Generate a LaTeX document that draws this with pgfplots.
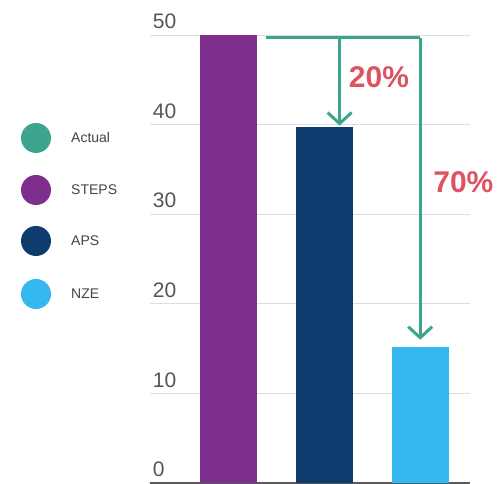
\documentclass[border=0pt]{standalone}
\usepackage{fontspec}
\setmainfont{Liberation Sans}
\usepackage{pgfplots}
\pgfplotsset{compat=1.18}
\usetikzlibrary{arrows.meta}

\definecolor{actual}{HTML}{3DA48E}
\definecolor{steps}{HTML}{7E2F8E}
\definecolor{aps}{HTML}{0F3C6E}
\definecolor{nze}{HTML}{35B7EF}
\definecolor{pct}{HTML}{DC5460}
\definecolor{ticktext}{HTML}{555555}
\definecolor{legtext}{HTML}{444444}

\begin{document}
\begin{tikzpicture}[x=1pt,y=1pt]

% legend
\foreach \c/\t/\yy in {actual/Actual/346, steps/STEPS/294, aps/APS/243, nze/NZE/190}{
  \fill[\c] (36,\yy) circle (15);
  \node[anchor=west, inner sep=0pt, text=legtext, font=\fontsize{14}{14}\selectfont] at (71,\yy) {\t};
}

\begin{axis}[
  at={(156,1)}, anchor=south west,
  scale only axis,
  width=320pt, height=448pt,
  xmin=-0.818, xmax=2.516,
  ymin=0, ymax=50,
  ytick={0,10,20,30,40,50},
  xtick=\empty,
  ybar, bar width=57pt, bar shift=0pt,
  ymajorgrids,
  grid style={draw=black!13, line width=1pt},
  axis x line*=bottom, axis y line*=left,
  y axis line style={draw=none},
  x axis line style={draw=black!65, line width=1.6pt},
  major tick length=0pt,
  /pgf/number format/assume math mode=true,
  yticklabel style={anchor=south west, inner sep=0pt, xshift=3pt, yshift=6pt,
    text=ticktext, font=\fontsize{21}{21}\selectfont},
  clip=false,
]
\addplot[fill=steps, draw=none] coordinates {(0,50)};
\addplot[fill=aps, draw=none] coordinates {(1,39.7)};
\addplot[fill=nze, draw=none] coordinates {(2,15.2)};

\draw[actual, line width=3pt] (axis cs:0.39,49.7) -- (axis cs:2.0,49.7);
\draw[actual, line width=3pt, -{Straight Barb[length=11pt,width=24pt,line width=3pt]}]
  (axis cs:1.16,49.7) -- (axis cs:1.16,39.9);
\draw[actual, line width=3pt, -{Straight Barb[length=11pt,width=24pt,line width=3pt]}]
  (axis cs:2.0,49.7) -- (axis cs:2.0,16.0);

\node[text=pct, font=\fontsize{30}{30}\selectfont\bfseries] at (axis cs:1.57,45.3) {20\%};
\node[text=pct, font=\fontsize{30}{30}\selectfont\bfseries] at (axis cs:2.45,33.6) {70\%};
\end{axis}
\pgfresetboundingbox
\useasboundingbox (0,0) rectangle (499,484);
\end{tikzpicture}
\end{document}
